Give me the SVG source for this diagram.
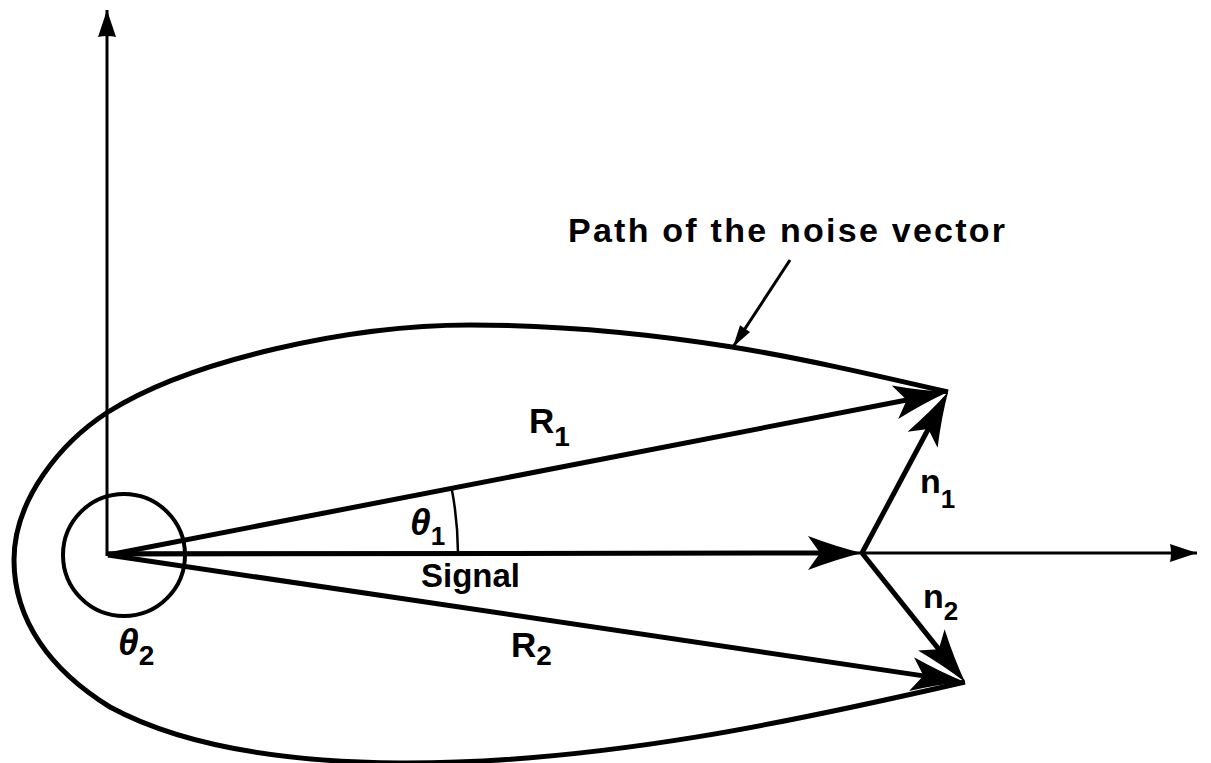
<svg xmlns="http://www.w3.org/2000/svg" width="1211" height="763" viewBox="0 0 1211 763">
<style>
.ln{fill:none;stroke:#000;stroke-linecap:butt;stroke-linejoin:round}
.vec{stroke-width:5}
.ax{stroke-width:3}
.lbl{font-family:"Liberation Sans",Arial,sans-serif;font-weight:bold;fill:#000}
.gr{font-style:italic}
</style>
<defs>
<marker id="vh" markerUnits="userSpaceOnUse" markerWidth="80" markerHeight="60" refX="0" refY="0" orient="auto" viewBox="-30 -30 80 60" overflow="visible">
<path d="M30,0 Q5,-6 -24,-17 L-12,0 L-24,17 Q5,6 30,0 Z" fill="#000"/>
</marker>
<marker id="ah" markerUnits="userSpaceOnUse" markerWidth="40" markerHeight="30" refX="0" refY="0" orient="auto" viewBox="-30 -15 40 30" overflow="visible">
<path d="M0,0 L-27,-9 Q-25,0 -27,9 Z" fill="#000"/>
</marker>
<marker id="ph" markerUnits="userSpaceOnUse" markerWidth="30" markerHeight="20" refX="0" refY="0" orient="auto" viewBox="-25 -10 30 20" overflow="visible">
<path d="M0,0 L-22,-6 L-22,6 Z" fill="#000"/>
</marker>
</defs>
<g id="axes">
<line class="ln ax" x1="107" y1="556" x2="107" y2="10" marker-end="url(#ah)"/>
<line class="ln ax" x1="107" y1="553" x2="1197" y2="553" marker-end="url(#ah)"/>
</g>
<g id="noise-path">
<path class="ln" stroke-width="5" d="M948,392 C870,374 800,358 732,347 C650,334 560,325 470,325 C350,325 190,360 108,412 C60,443 14,500 14,560 C14,620 50,670 110,707 C180,745 280,762 400,763 C600,764 800,720 965,682"/>
</g>
<g id="angles">
<circle class="ln" cx="124" cy="555" r="61" stroke-width="4"/>
<path class="ln" stroke-width="2.5" d="M451.6,488.3 A350,350 0 0 1 458,553"/>
</g>
<g id="connectors">
<line class="ln vec" x1="108" y1="555" x2="918.5" y2="397.7" marker-end="url(#vh)"/>
<line class="ln vec" x1="108" y1="555" x2="935.3" y2="677.6" marker-end="url(#vh)"/>
<line class="ln vec" x1="108" y1="554" x2="832" y2="553" marker-end="url(#vh)"/>
<line class="ln vec" x1="862" y1="553" x2="933.9" y2="418.5" marker-end="url(#vh)"/>
<line class="ln vec" x1="862" y1="553" x2="946.3" y2="658.6" marker-end="url(#vh)"/>
<line class="ln" stroke-width="3" x1="790" y1="260" x2="733" y2="347" marker-end="url(#ph)"/>
</g>
<g id="labels">
<text class="lbl" x="568" y="242" font-size="34" textLength="437" lengthAdjust="spacing">Path of the noise vector</text>
<text class="lbl" x="529" y="433" font-size="35">R<tspan font-size="28" dy="13">1</tspan></text>
<text class="lbl gr" x="410" y="535" font-size="37">θ<tspan font-size="26" dy="10" font-style="normal">1</tspan></text>
<text class="lbl" x="421" y="587" font-size="33">Signal</text>
<text class="lbl" x="511" y="657" font-size="35">R<tspan font-size="28" dy="8">2</tspan></text>
<text class="lbl gr" x="118" y="655" font-size="37">θ<tspan font-size="28" dy="10" font-style="normal">2</tspan></text>
<text class="lbl" x="920" y="493" font-size="34">n<tspan font-size="26" dy="15">1</tspan></text>
<text class="lbl" x="923" y="608" font-size="34">n<tspan font-size="26" dy="12">2</tspan></text>
</g>
</svg>
